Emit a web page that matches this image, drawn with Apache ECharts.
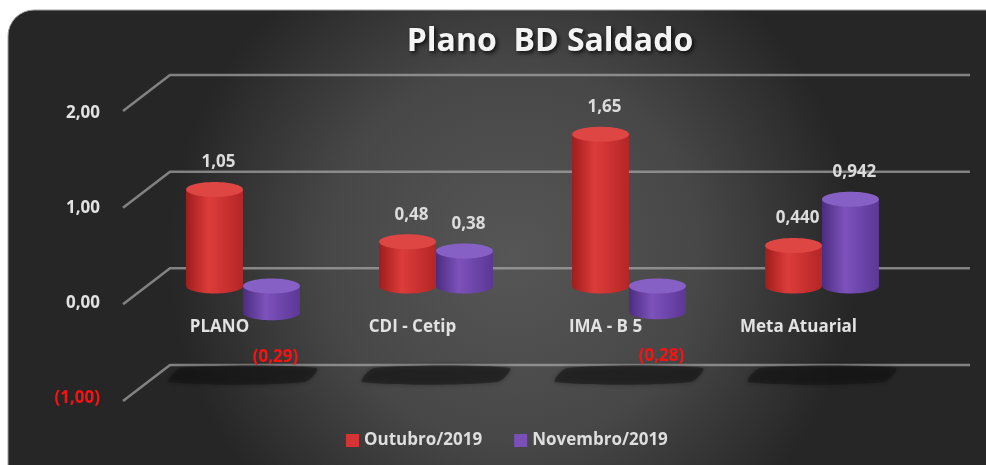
<!DOCTYPE html>
<html>
<head>
<meta charset="utf-8">
<script src="https://cdn.jsdelivr.net/npm/echarts@6/dist/echarts.min.js"></script>
<style>
  html, body { margin: 0; padding: 0; background: #fff; }
  #chart { width: 986px; height: 465px; }
</style>
</head>
<body>
<div id="chart"></div>
<script>
var categorias = ['PLANO', 'CDI - Cetip', 'IMA - B 5', 'Meta Atuarial'];
var outubro = [1.05, 0.48, 1.65, 0.440];
var novembro = [-0.29, 0.38, -0.28, 0.942];
var casasOut = [2, 2, 2, 3];
var casasNov = [2, 2, 2, 3];
var ticksY = [-1, 0, 1, 2];

var FONTE = '"Open Sans", sans-serif';

function formata(v, casas) {
  var s = Math.abs(v).toFixed(casas).replace('.', ',');
  return v < 0 ? '(' + s + ')' : s;
}

// cilindro "3D" desenhado a partir das coordenadas do eixo
function cilindro(cores, lado, casas) {
  return function (params, api) {
    var i = api.value(0), v = api.value(1);
    var pv = api.coord([i, v]);
    var p0 = api.coord([i, 0]);
    var banda = api.size([1, 0])[0];
    var w = banda * 0.295;
    var cx = pv[0] + lado * w / 2;
    var ry = 7.5;
    var yTopo = Math.min(pv[1], p0[1]);
    var yBase = Math.max(pv[1], p0[1]);
    var corpo = new echarts.graphic.LinearGradient(0, 0, 1, 0, [
      { offset: 0, color: cores[0] },
      { offset: 0.4, color: cores[1] },
      { offset: 1, color: cores[2] }
    ]);
    var txt = formata(v, casas[i]);
    var ty = v >= 0 ? yTopo - 27 : yBase + 44;
    return {
      type: 'group',
      children: [
        { type: 'ellipse', shape: { cx: cx, cy: yBase, rx: w / 2, ry: ry }, style: { fill: corpo } },
        { type: 'rect', shape: { x: cx - w / 2, y: yTopo, width: w, height: yBase - yTopo }, style: { fill: corpo } },
        { type: 'ellipse', shape: { cx: cx, cy: yTopo, rx: w / 2, ry: ry }, style: { fill: cores[3] } },
        { type: 'text', style: {
            text: txt, x: cx + 4, y: ty, align: 'center', verticalAlign: 'middle',
            fill: v < 0 ? '#ff1010' : '#dcdcdc', font: 'bold 17px ' + FONTE
        } }
      ]
    };
  };
}

var dom = document.getElementById('chart');
var myChart = echarts.init(dom, null, { renderer: 'canvas' });

var option = {
  backgroundColor: '#ffffff',
  animation: false,
  graphic: [{
    type: 'rect', z: -10, silent: true,
    shape: { x: 8, y: 10, width: 1010, height: 490, r: 26 },
    style: {
      fill: new echarts.graphic.RadialGradient(0.5, 0.5, 0.7, [
        { offset: 0, color: '#565656' },
        { offset: 0.55, color: '#474747' },
        { offset: 1, color: '#262626' }
      ]),
      stroke: '#a0a0a0', lineWidth: 1
    }
  }],
  title: {
    text: 'Plano  BD Saldado',
    left: 545, top: 21, textAlign: 'center',
    textStyle: {
      color: '#f4f4f4', fontSize: 32, fontWeight: 'bold', fontFamily: FONTE,
      textShadowColor: 'rgba(0,0,0,0.8)', textShadowBlur: 4, textShadowOffsetX: 2, textShadowOffsetY: 2
    }
  },
  legend: {
    left: 341, top: 427,
    itemWidth: 13, itemHeight: 13, itemGap: 32,
    icon: 'rect',
    textStyle: { color: '#dedede', fontSize: 17, fontWeight: 'bold', fontFamily: FONTE },
    data: ['Outubro/2019', 'Novembro/2019']
  },
  grid: [
    { left: 170, top: 75, width: 800, height: 290 },   // parede de fundo
    { left: 123, top: 113, width: 772, height: 285 },  // plano da frente (rotulos)
    { left: 146.5, top: 102, width: 772, height: 276 } // plano das barras
  ],
  xAxis: [
    { gridIndex: 0, type: 'value', min: 0, max: 1, show: false },
    {
      gridIndex: 1, type: 'category', data: categorias,
      offset: -95,
      axisLine: { show: false }, axisTick: { show: false },
      axisLabel: { color: '#e2e2e2', fontSize: 17, fontWeight: 'bold', fontFamily: FONTE, margin: 16 }
    },
    { gridIndex: 2, type: 'category', data: categorias, show: false }
  ],
  yAxis: [
    { gridIndex: 0, type: 'value', min: -1, max: 2, interval: 1, show: false },
    {
      gridIndex: 1, type: 'value', min: -1, max: 2, interval: 1,
      axisLine: { show: false }, axisTick: { show: false }, splitLine: { show: false },
      axisLabel: {
        margin: 23,
        formatter: function (v) {
          return v < 0 ? '{neg|' + formata(v, 2) + '}' : '{pos|' + formata(v, 2) + '}';
        },
        rich: {
          pos: { color: '#e2e2e2', fontSize: 17, fontWeight: 'bold', fontFamily: FONTE },
          neg: { color: '#ff1010', fontSize: 17, fontWeight: 'bold', fontFamily: FONTE }
        }
      }
    },
    { gridIndex: 2, type: 'value', min: -1, max: 2, interval: 1, show: false }
  ],
  series: [
    {
      // linhas de grade com a diagonal de perspectiva
      type: 'custom', xAxisIndex: 0, yAxisIndex: 0, silent: true, z: 1,
      data: ticksY.map(function (t) { return [0, t]; }),
      renderItem: function (params, api) {
        var a = api.coord([0, api.value(1)]);
        var b = api.coord([1, api.value(1)]);
        return {
          type: 'polyline',
          shape: { points: [[a[0] - 47, a[1] + 36], a, b] },
          style: { stroke: 'rgba(170,170,170,0.7)', lineWidth: 2.5, fill: null }
        };
      }
    },
    {
      // sombras no piso
      type: 'custom', xAxisIndex: 2, yAxisIndex: 2, silent: true, z: 1,
      data: categorias.map(function (c, i) { return [i, -1]; }),
      renderItem: function (params, api) {
        var p = api.coord([api.value(0), api.value(1)]);
        var banda = api.size([1, 0])[0];
        var w = banda * 0.76;
        var y0 = p[1] - 3;
        return {
          type: 'polygon',
          shape: { points: [[p[0] - w / 2 + 12, y0 - 7], [p[0] + w / 2, y0 - 7], [p[0] + w / 2 - 12, y0 + 7], [p[0] - w / 2, y0 + 7]], smooth: 0.3 },
          style: { fill: 'rgba(20,20,20,0.55)', shadowBlur: 5, shadowColor: 'rgba(0,0,0,0.6)' }
        };
      }
    },
    {
      name: 'Outubro/2019', type: 'custom', xAxisIndex: 2, yAxisIndex: 2, z: 3,
      itemStyle: { color: '#d63434' },
      data: outubro.map(function (v, i) { return [i, v]; }),
      renderItem: cilindro(['#a01d1d', '#dc3c3a', '#b42626', '#de4644'], -1, casasOut)
    },
    {
      name: 'Novembro/2019', type: 'custom', xAxisIndex: 2, yAxisIndex: 2, z: 3,
      itemStyle: { color: '#7a4fb8' },
      data: novembro.map(function (v, i) { return [i, v]; }),
      renderItem: cilindro(['#4c2c80', '#7c52bb', '#5c3796', '#8660c4'], 1, casasNov)
    }
  ]
};

myChart.setOption(option);
window.addEventListener('resize', myChart.resize);
</script>
</body>
</html>
